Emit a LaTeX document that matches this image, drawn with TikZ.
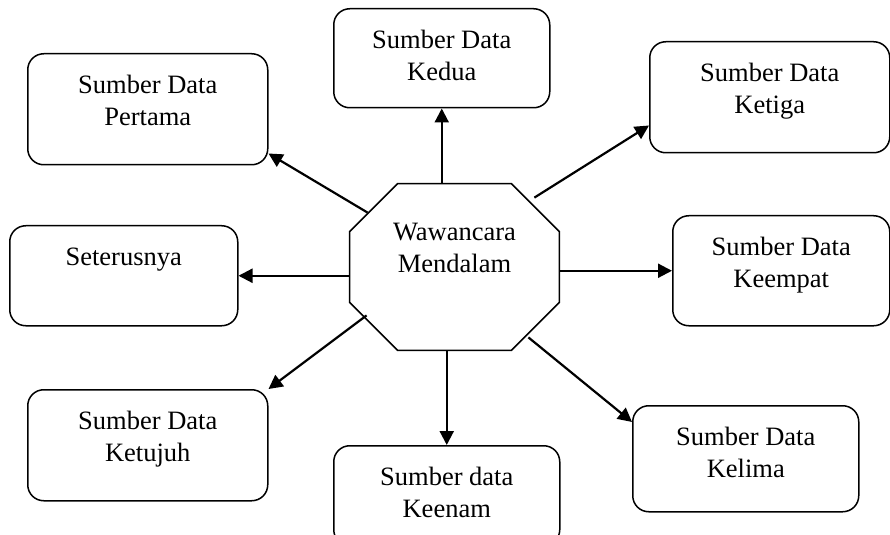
\documentclass[tikz,border=0pt]{standalone}
\usepackage{fontspec}
\setmainfont{Liberation Serif}
\usetikzlibrary{arrows.meta}

\tikzset{
  sumber/.style 2 args={draw, line width=0.75pt, rounded corners=8pt, align=flush center,
    text width=#1, inner sep=0pt, text height=20pt, text depth=#2, anchor=north west},
  pusat/.style={minimum width=104.5pt, minimum height=83pt, inner sep=0pt,
    text width=70pt, align=flush center, text height=4.5pt, text depth=30.5pt},
  garis/.style={line width=0.75pt},
  panah/.style={-{Triangle[length=7pt,width=7pt]}, line width=1.1pt}
}

\begin{document}
\begin{tikzpicture}[x=0.5pt, y=-0.5pt, font=\fontsize{13.25}{15.75}\selectfont]
            \useasboundingbox (0,0) rectangle (890,535);
            \node [pusat] (wawancara) at (454.5,267) {Wawancara\\Mendalam};
            % segi delapan
            \draw [garis] ([xshift=24pt]wawancara.north west) -- ([xshift=-24pt]wawancara.north east)
              -- ([yshift=-24pt]wawancara.north east) -- ([yshift=24pt]wawancara.south east)
              -- ([xshift=-24pt]wawancara.south east) -- ([xshift=24pt]wawancara.south west)
              -- ([yshift=24pt]wawancara.south west) -- ([yshift=-24pt]wawancara.north west) -- cycle;
            \coordinate (wm-kiri-atas) at ([xshift=9pt,yshift=-14.5pt]wawancara.north west);
            \coordinate (wm-kanan-atas) at ([xshift=-12.5pt,yshift=-7pt]wawancara.north east);
            \coordinate (wm-kiri-bawah) at ([xshift=8.5pt,yshift=17.5pt]wawancara.south west);
            \coordinate (wm-kanan-bawah) at ([xshift=-15.5pt,yshift=6.5pt]wawancara.south east);
            \node [sumber={120pt}{35.5pt}] (pertama) at (27,53) {Sumber Data\\Pertama};
            \node [sumber={108pt}{29.5pt}] (kedua) at (333,8) {Sumber Data\\Kedua};
            \node [sumber={120pt}{35.5pt}] (ketiga) at (649,41) {Sumber Data\\Ketiga};
            \node [sumber={108.5pt}{35pt}] (keempat) at (672,215) {Sumber Data\\Keempat};
            \node [sumber={113pt}{33pt}] (kelima) at (632,405) {Sumber Data\\Kelima};
            \node [sumber={113pt}{30pt}] (keenam) at (333,445) {Sumber data\\Keenam};
            \node [sumber={120pt}{35.5pt}] (ketujuh) at (27,389) {Sumber Data\\Ketujuh};
            \node [sumber={114pt}{30pt}] (seterusnya) at (9,225) {Seterusnya};
            % panah dari pusat
            \draw [panah] (wawancara.north -| kedua.south) -- (kedua.south);
            \draw [panah] (wawancara.south -| keenam.north) -- (keenam.north);
            \draw [panah] (wawancara.west |- seterusnya.east) -- (seterusnya.east);
            \draw [panah] (wawancara.east |- keempat.west) -- (keempat.west);
            \draw [panah] (wm-kiri-atas) -- ([yshift=6pt]pertama.south east);
            \draw [panah] (wm-kanan-atas) -- ([yshift=14pt]ketiga.south west);
            \draw [panah] (wm-kiri-bawah) -- (ketujuh.north east);
            \draw [panah] (wm-kanan-bawah) -- ([yshift=-8.5pt]kelima.north west);
        \end{tikzpicture}
\end{document}
